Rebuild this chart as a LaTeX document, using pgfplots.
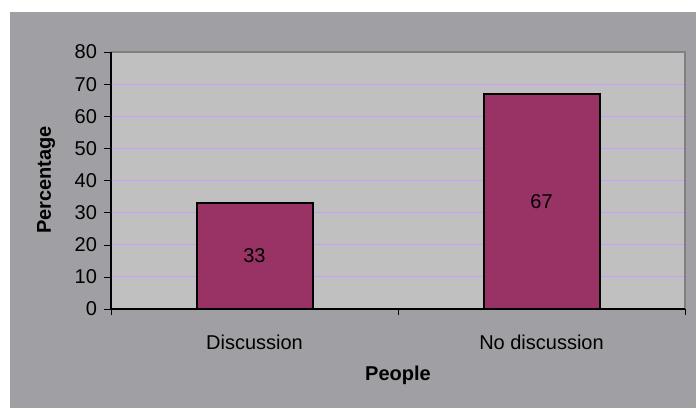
\documentclass[border=0pt]{standalone}
\usepackage{pgfplots}
\pgfplotsset{compat=1.18}
\usepackage{fontspec}
\setmainfont{Liberation Sans}
\definecolor{outergray}{RGB}{160,160,164}
\definecolor{plotgray}{RGB}{192,192,192}
\definecolor{bordergray}{RGB}{128,128,128}
\definecolor{barcol}{RGB}{153,51,102}
\definecolor{gridcol}{RGB}{204,153,255}
\begin{document}
\begin{tikzpicture}
\fill[white] (0,0) rectangle (348pt,204pt);
\fill[outergray] (5pt,0) rectangle (348pt,198pt);
\begin{axis}[
  at={(55.5pt,49.5pt)}, anchor=south west,
  scale only axis, width=287pt, height=128.5pt,
  xmin=0, xmax=2, ymin=0, ymax=80,
  ytick={0,10,...,80},
  xtick={0.5,1.5},
  xticklabels={Discussion,No discussion},
  xtick pos=bottom, ytick pos=left,
  major x tick style={draw=none},
  extra x ticks={0,1,2},
  extra x tick labels={,,},
  extra x tick style={grid=none, major tick length=3pt, tick align=outside, major x tick style={draw=black}, xtick pos=bottom},
  y tick style={black},
  major tick length=3.5pt,
  tick align=outside,
  axis line style={draw=none},
  axis background/.style={fill=plotgray},
  ymajorgrids, grid style={gridcol, line width=0.5pt},
  tick label style={font=\fontsize{10}{12}\selectfont},
  /pgf/number format/assume math mode=true,
  xticklabel style={yshift=-6pt},
  clip=false,
]
\addplot[ybar, bar width=58pt, fill=barcol, draw=black, line width=1pt] coordinates {(0.5,33) (1.5,67)};
\addplot[draw=none, mark=none, point meta=explicit symbolic,
  nodes near coords, nodes near coords style={font=\fontsize{10}{12}\selectfont, black, anchor=center}]
  coordinates {(0.5,16.5) [33] (1.5,33.5) [67]};
\draw[bordergray, line width=1.2pt] (rel axis cs:0,1) -- (rel axis cs:1,1) -- (rel axis cs:1,0);
\draw[black, line width=0.6pt] (rel axis cs:0,1) -- (rel axis cs:0,0) -- (rel axis cs:1,0);
\end{axis}
\node[font=\bfseries\fontsize{10}{12}\selectfont] at (199pt,16.5pt) {People};
\node[font=\bfseries\fontsize{10}{12}\selectfont, rotate=90] at (23pt,114pt) {Percentage};
\end{tikzpicture}
\end{document}
